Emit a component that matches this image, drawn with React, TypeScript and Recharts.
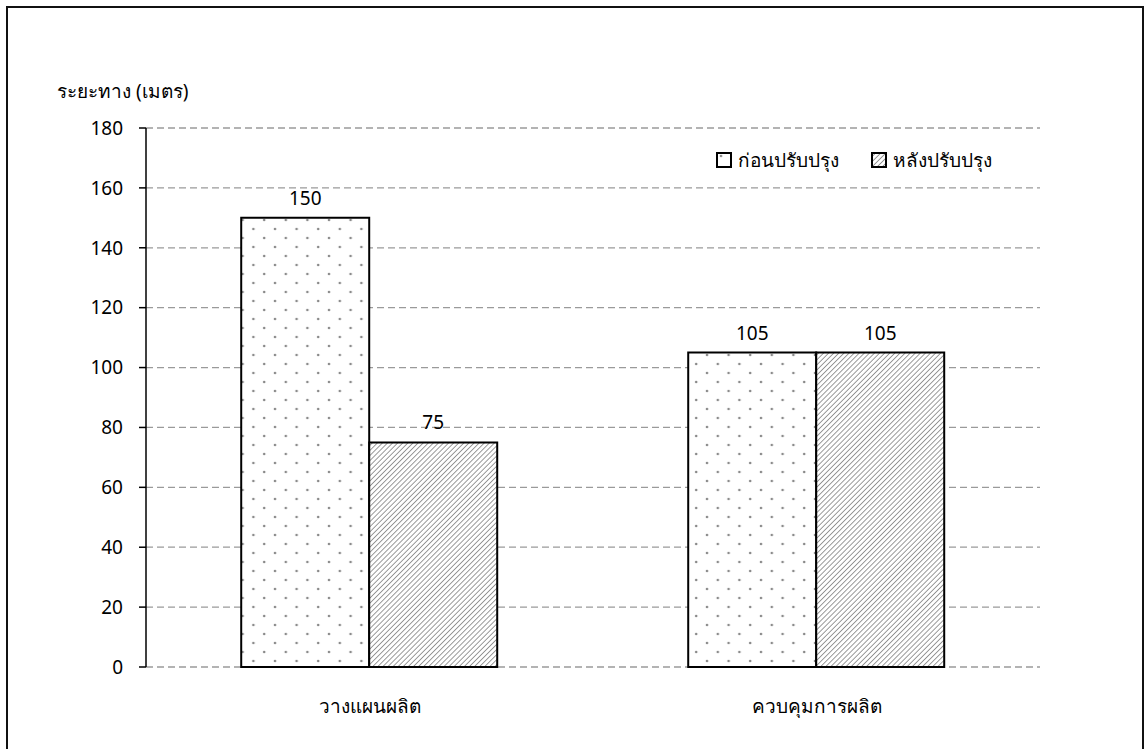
import { Bar, BarChart, CartesianGrid, LabelList, XAxis, YAxis } from "recharts";

const categories = ["วางแผนผลิต", "ควบคุมการผลิต"];
const beforeValues = [150, 105];
const afterValues = [75, 105];
const yTicks = [0, 20, 40, 60, 80, 100, 120, 140, 160, 180];
const seriesNames = ["ก่อนปรับปรุง", "หลังปรับปรุง"];
const yTitle = "ระยะทาง (เมตร)";

const data = categories.map((name, i) => ({
  name,
  idx: i,
  before: beforeValues[i],
  after: afterValues[i],
}));

const font = "'Noto Sans', 'DejaVu Sans', sans-serif";
const fs = 19;

function Patterns({ suffix = "" }: { suffix?: string }) {
  return (
    <defs>
      <pattern id={"dots" + suffix} width="21.6" height="18" patternUnits="userSpaceOnUse">
        <rect width="21.6" height="18" fill="#fff" />
        <circle cx="5" cy="4" r="1.3" fill="#8a8a8a" />
        <circle cx="15.8" cy="13" r="1.3" fill="#8a8a8a" />
      </pattern>
      <pattern id={"hatch" + suffix} width="3.6" height="3.6" patternUnits="userSpaceOnUse" patternTransform="rotate(45)">
        <rect width="3.6" height="3.6" fill="#fff" />
        <line x1="0" y1="0" x2="0" y2="3.6" stroke="#909090" strokeWidth="1.8" />
      </pattern>
    </defs>
  );
}

function LegendBox({ fill, label }: { fill: string; label: string }) {
  return (
    <div style={{ display: "flex", alignItems: "center", marginRight: 32 }}>
      <svg width="16" height="16" style={{ marginRight: 6 }}>
        <rect x="1" y="1" width="14" height="14" fill={fill} stroke="#000" strokeWidth="2" />
      </svg>
      <span>{label}</span>
    </div>
  );
}

const CatTick = (props: any) => {
  const { x, y, payload } = props;
  return (
    <text x={x} y={y} dy="0.71em" textAnchor="middle" fontSize={fs} fill="#000" fontFamily={font}>
      {payload.value}
    </text>
  );
};

export default function App() {
  return (
    <div
      style={{
        position: "absolute",
        left: 0,
        top: 0,
        width: 1144,
        height: 749,
        overflow: "hidden",
        background: "#fff",
        fontFamily: font,
      }}
    >
      <svg width="0" height="0" style={{ position: "absolute" }}>
        <Patterns suffix="L" />
      </svg>
      <div
        style={{
          position: "absolute",
          left: 6,
          top: 6,
          width: 1134,
          height: 760,
          border: "2px solid #111",
        }}
      />
      <div style={{ position: "absolute", left: 0, top: 0 }}>
        <BarChart
          width={1144}
          height={749}
          data={data}
          margin={{ top: 128, right: 104, bottom: 22, left: 86 }}
          barCategoryGap="21.3%"
          barGap={0}
        >
          <Patterns />
          <CartesianGrid vertical={false} stroke="#9a9a9a" strokeWidth={1.3} strokeDasharray="7 4" />
          <XAxis
            xAxisId="edges"
            dataKey="idx"
            type="number"
            domain={[0, 2]}
            ticks={[0, 1, 2]}
            tickFormatter={() => ""}
            height={0}
            tickSize={7}
            axisLine={{ stroke: "#000", strokeWidth: 1.5 }}
            tickLine={{ stroke: "#000", strokeWidth: 1.5 }}
          />
          <XAxis
            xAxisId="cat"
            dataKey="name"
            height={60}
            axisLine={false}
            tickLine={false}
            tickSize={0}
            tickMargin={33}
            tick={<CatTick />}
          />
          <YAxis
            width={60}
            domain={[0, 180]}
            ticks={yTicks}
            interval={0}
            tickSize={7}
            tickMargin={16}
            axisLine={{ stroke: "#000", strokeWidth: 1.5 }}
            tickLine={{ stroke: "#000", strokeWidth: 1.5 }}
            tick={{ fontSize: fs, fill: "#000", fontFamily: font }}
          />
          <Bar xAxisId="cat" dataKey="before" name={seriesNames[0]} fill="url(#dots)" stroke="#000" strokeWidth={2} isAnimationActive={false}>
            <LabelList dataKey="before" position="top" offset={13} fontSize={fs} fill="#000" fontFamily={font} />
          </Bar>
          <Bar xAxisId="cat" dataKey="after" name={seriesNames[1]} fill="url(#hatch)" stroke="#000" strokeWidth={2} isAnimationActive={false}>
            <LabelList dataKey="after" position="top" offset={13} fontSize={fs} fill="#000" fontFamily={font} />
          </Bar>
        </BarChart>
      </div>
      <div style={{ position: "absolute", left: 57, top: 76, fontSize: fs, color: "#000" }}>{yTitle}</div>
      <div
        style={{
          position: "absolute",
          left: 716,
          top: 145,
          display: "flex",
          fontSize: fs,
          color: "#000",
        }}
      >
        <LegendBox fill="url(#dotsL)" label={seriesNames[0]} />
        <LegendBox fill="url(#hatchL)" label={seriesNames[1]} />
      </div>
    </div>
  );
}
